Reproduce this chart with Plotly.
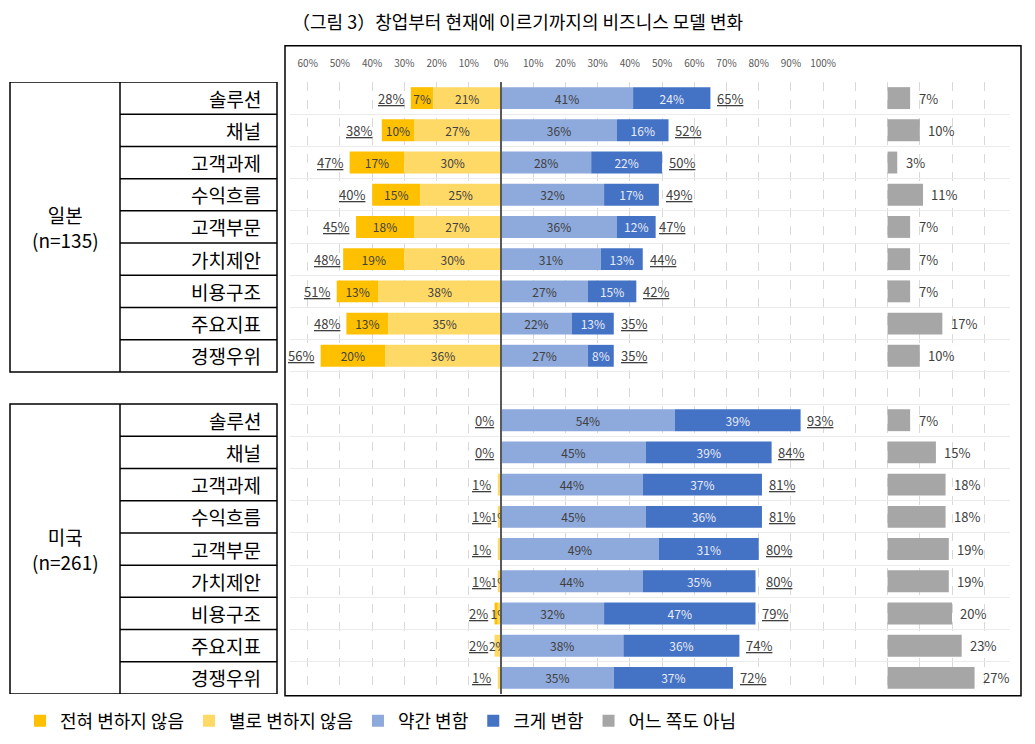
import plotly.graph_objects as go

items = ["솔루션","채널","고객과제","수익흐름","고객부문","가치제안","비용구조","주요지표","경쟁우위"]
groups = ["일본<br>(n=135)", "미국<br>(n=261)"]
jp_none   = [7,10,17,15,18,19,13,13,20]
jp_little = [21,27,30,25,27,30,38,35,36]
jp_some   = [41,36,28,32,36,31,27,22,27]
jp_big    = [24,16,22,17,12,13,15,13,8]
jp_other  = [7,10,3,11,7,7,7,17,10]
jp_negtot = [28,38,47,40,45,48,51,48,56]
jp_postot = [65,52,50,49,47,44,42,35,35]
us_none   = [0,0,0,0,0,0,1,0,0]
us_little = [0,0,1,1,1,1,1,2,1]
us_some   = [54,45,44,45,49,44,32,38,35]
us_big    = [39,39,37,36,31,35,47,36,37]
us_other  = [7,15,18,18,19,19,20,23,27]
us_negtot = [0,0,1,1,1,1,2,2,1]
us_postot = [93,84,81,81,80,80,79,74,72]
us_little_shown = [False,False,False,True,False,True,True,True,False]
legend_names = ["전혀 변하지 않음","별로 변하지 않음","약간 변함","크게 변함","어느 쪽도 아님"]
colors = ["#FFC000","#FFD966","#8EA9DB","#4472C4","#A6A6A6"]
OTHER_BASE = 120

ypos = list(range(9)) + list(range(10, 19))
none = jp_none + us_none
little = jp_little + us_little
some = jp_some + us_some
big = jp_big + us_big
other = jp_other + us_other
negtot = jp_negtot + us_negtot
postot = jp_postot + us_postot
little_txt = [f"{v}%" for v in jp_little] + [f"{v}%" if s else "" for v, s in zip(us_little, us_little_shown)]
none_txt = [f"{v}%" for v in jp_none] + ["" for _ in us_none]

FONT = "Noto Sans CJK KR"
fig = go.Figure()
common = dict(orientation="h", width=0.68, textposition="inside", insidetextanchor="middle",
              constraintext="none", textangle=0, y=ypos, marker_line_width=0)
fig.add_trace(go.Bar(name=legend_names[0], x=[-v for v in none], base=[-l for l in little],
                     marker_color=colors[0], text=none_txt, textfont=dict(color="#404040"), **common))
fig.add_trace(go.Bar(name=legend_names[1], x=[-v for v in little], base=[0]*18,
                     marker_color=colors[1], text=little_txt, textfont=dict(color="#404040"), **common))
fig.add_trace(go.Bar(name=legend_names[2], x=some, base=[0]*18, marker_color=colors[2],
                     text=[f"{v}%" for v in some], textfont=dict(color="#404040"), **common))
fig.add_trace(go.Bar(name=legend_names[3], x=big, base=some, marker_color=colors[3],
                     text=[f"{v}%" for v in big], textfont=dict(color="#E8ECF6"), **common))
fig.add_trace(go.Bar(name=legend_names[4], x=other, base=[OTHER_BASE]*18, marker_color=colors[4],
                     orientation="h", width=0.68, y=ypos, marker_line_width=0))

ann = []
for y, n, p, o in zip(ypos, negtot, postot, other):
    ann.append(dict(x=-n - 1.5, y=y, xref="x", yref="y", text=f"<u>{n}%</u>", showarrow=False,
                    xanchor="right", font=dict(size=13, color="#404040", family=FONT)))
    ann.append(dict(x=p + 1.5, y=y, xref="x", yref="y", text=f"<u>{p}%</u>", showarrow=False,
                    xanchor="left", font=dict(size=13, color="#404040", family=FONT)))
    ann.append(dict(x=OTHER_BASE + o + 2, y=y, xref="x", yref="y", text=f"{o}%", showarrow=False,
                    xanchor="left", font=dict(size=13, color="#404040", family=FONT)))

def px(x): return (x - 290) / 720
def py(y): return (701.3 - y) / 619.6

for y, it in zip(ypos, items + items):
    ann.append(dict(x=px(263), y=y, xref="paper", yref="y", text=it, showarrow=False, xanchor="right",
                    font=dict(size=19, color="black", family=FONT)))
ann.append(dict(x=px(65), y=4, xref="paper", yref="y", text=groups[0], showarrow=False, xanchor="center",
                font=dict(size=19, color="black", family=FONT)))
ann.append(dict(x=px(65), y=14, xref="paper", yref="y", text=groups[1], showarrow=False, xanchor="center",
                font=dict(size=19, color="black", family=FONT)))
ann.append(dict(x=px(517), y=py(20), xref="paper", yref="paper", xanchor="center", yanchor="middle",
                text="（그림 3）창업부터 현재에 이르기까지의 비즈니스 모델 변화",
                showarrow=False, font=dict(size=18, color="black", family=FONT)))

shapes = []
ln = dict(color="black", width=1.5)
for (y0, y1) in [(-0.5, 8.5), (9.5, 18.5)]:
    shapes.append(dict(type="rect", xref="paper", yref="y", x0=px(10), x1=px(277), y0=y0, y1=y1, line=ln))
    shapes.append(dict(type="line", xref="paper", yref="y", x0=px(120), x1=px(120), y0=y0, y1=y1, line=ln))
    for k in range(int(y0 + 0.5), int(y1 - 0.5)):
        shapes.append(dict(type="line", xref="paper", yref="y", x0=px(120), x1=px(277), y0=k + 0.5, y1=k + 0.5, line=ln))
shapes.append(dict(type="rect", xref="paper", yref="paper", x0=px(285), x1=px(1021), y0=py(703), y1=py(45),
                   line=dict(color="black", width=1.5)))
shapes.append(dict(type="line", xref="x", yref="paper", x0=0, x1=0, y0=0, y1=1, line=dict(color="#595959", width=2)))

tv = list(range(-60, 160, 10))
tt = [f"{abs(v)}%" if v <= 100 else "" for v in tv]
fig.update_layout(
    width=1035, height=744, plot_bgcolor="white", paper_bgcolor="white",
    margin=dict(l=282, r=33, t=73.7, b=50.7), barmode="overlay",
    font=dict(family=FONT),
    xaxis=dict(range=[-65.5, 158], side="top", tickvals=tv, ticktext=tt, showgrid=True,
               gridcolor="#D9D9D9", griddash="dash", zeroline=False, tickfont=dict(size=10, color="#595959"),
               ticklen=0, ticklabelstandoff=12),
    yaxis=dict(range=[18.5, -0.5], tickvals=[i + 0.5 for i in range(-1, 19)], showticklabels=False,
               showgrid=True, gridcolor="#EBEBEB", zeroline=False, ticks=""),
    uniformtext=dict(minsize=12, mode="show"),
    legend=dict(orientation="h", x=px(20), y=py(710), xanchor="left", yanchor="top",
                font=dict(size=18, color="black", family=FONT), itemwidth=30, traceorder="normal"),
    annotations=ann, shapes=shapes, showlegend=True,
)
fig.write_html("out.html")
